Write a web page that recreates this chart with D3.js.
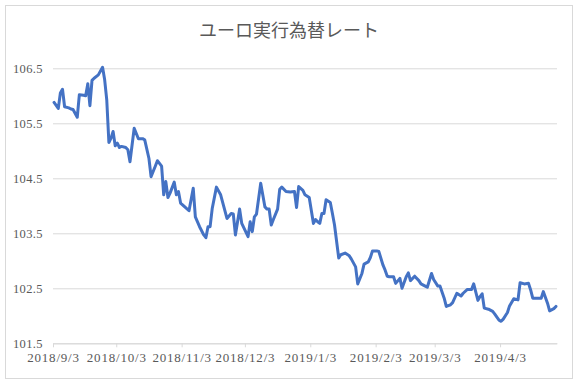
<!DOCTYPE html>
<html>
<head>
<meta charset="utf-8">
<script src="https://cdn.jsdelivr.net/npm/d3@7"></script>
<style>
  body { margin: 0; background: #fff; }
</style>
</head>
<body>
<div id="chart"></div>
<script>
var chartTitle = 'ユーロ実行為替レート';

var dates = [
  '2018-09-03','2018-09-05','2018-09-06','2018-09-07','2018-09-08','2018-09-10','2018-09-11','2018-09-12',
  '2018-09-14','2018-09-15','2018-09-17','2018-09-18','2018-09-19','2018-09-20','2018-09-21','2018-09-22',
  '2018-09-24','2018-09-26','2018-09-27','2018-09-28','2018-09-29','2018-09-30','2018-10-01','2018-10-02',
  '2018-10-03','2018-10-04','2018-10-05','2018-10-07','2018-10-08','2018-10-09','2018-10-11','2018-10-13',
  '2018-10-15','2018-10-16','2018-10-18','2018-10-19','2018-10-21','2018-10-22','2018-10-24','2018-10-25',
  '2018-10-26','2018-10-27','2018-10-28','2018-10-30','2018-10-31','2018-11-01','2018-11-02','2018-11-04',
  '2018-11-06','2018-11-08','2018-11-09','2018-11-11','2018-11-13','2018-11-14','2018-11-15','2018-11-16',
  '2018-11-17','2018-11-19','2018-11-21','2018-11-24','2018-11-26','2018-11-27','2018-11-28','2018-11-30',
  '2018-12-01','2018-12-04','2018-12-05','2018-12-06','2018-12-07','2018-12-08','2018-12-10','2018-12-12',
  '2018-12-13','2018-12-14','2018-12-15','2018-12-16','2018-12-18','2018-12-19','2018-12-20','2018-12-22',
  '2018-12-24','2018-12-26','2018-12-27','2018-12-28','2018-12-30','2018-12-31','2019-01-02','2019-01-04',
  '2019-01-05','2019-01-06','2019-01-07','2019-01-08','2019-01-09','2019-01-10','2019-01-12','2019-01-13',
  '2019-01-14','2019-01-16','2019-01-17','2019-01-19','2019-01-21','2019-01-22','2019-01-24','2019-01-25',
  '2019-01-27','2019-01-28','2019-01-30','2019-01-31','2019-02-01','2019-02-03','2019-02-04','2019-02-06',
  '2019-02-07','2019-02-08','2019-02-09','2019-02-11','2019-02-12','2019-02-14','2019-02-15','2019-02-17',
  '2019-02-18','2019-02-19','2019-02-21','2019-02-23','2019-02-24','2019-02-26','2019-02-27','2019-03-01',
  '2019-03-02','2019-03-04','2019-03-05','2019-03-07','2019-03-08','2019-03-10','2019-03-11','2019-03-13',
  '2019-03-15','2019-03-16','2019-03-18','2019-03-20','2019-03-21','2019-03-23','2019-03-24','2019-03-25',
  '2019-03-26','2019-03-28','2019-03-30','2019-03-31','2019-04-02','2019-04-03','2019-04-04','2019-04-06',
  '2019-04-07','2019-04-09','2019-04-11','2019-04-12','2019-04-14','2019-04-16','2019-04-17','2019-04-18',
  '2019-04-20','2019-04-22','2019-04-23','2019-04-25','2019-04-26','2019-04-28','2019-04-29'
];

var rates = [
  105.88,105.77,106.05,106.12,105.80,105.78,105.76,105.75,
  105.61,106.02,106.01,106.00,106.22,105.82,106.28,106.32,
  106.38,106.52,106.29,105.92,105.15,105.23,105.35,105.09,
  105.14,105.06,105.08,105.06,105.02,104.80,105.41,105.22,
  105.22,105.20,104.86,104.53,104.72,104.82,104.72,104.20,
  104.44,104.15,104.23,104.43,104.20,104.26,104.05,103.98,
  103.91,104.32,103.80,103.62,103.47,103.42,103.62,103.62,
  103.95,104.34,104.20,103.77,103.86,103.85,103.47,103.94,
  103.68,103.44,103.71,103.53,103.80,103.85,104.41,103.98,
  103.94,103.94,103.65,103.75,103.94,104.30,104.34,104.26,
  104.25,104.26,103.97,104.35,104.28,104.20,104.15,103.68,
  103.75,103.71,103.68,103.86,103.86,104.11,104.06,103.86,
  103.65,103.05,103.11,103.14,103.09,103.03,102.89,102.58,
  102.77,102.94,102.98,103.06,103.18,103.18,103.17,102.92,
  102.83,102.72,102.71,102.71,102.59,102.68,102.50,102.71,
  102.78,102.64,102.72,102.64,102.58,102.54,102.52,102.77,
  102.66,102.54,102.54,102.32,102.17,102.20,102.24,102.41,
  102.36,102.41,102.48,102.48,102.58,102.28,102.35,102.40,
  102.14,102.12,102.08,102.03,101.92,101.90,101.94,102.06,
  102.18,102.31,102.29,102.60,102.58,102.59,102.47,102.32,
  102.32,102.32,102.44,102.23,102.09,102.13,102.17
];

var xTickDates = ['2018-09-03','2018-10-03','2018-11-03','2018-12-03','2019-01-03','2019-02-03','2019-03-03','2019-04-03'];
var xDomain = ['2018-09-03', '2019-04-30'];
var yTicks = [101.5, 102.5, 103.5, 104.5, 105.5, 106.5];

var W = 579, H = 387;
var margin = {top: 68.3, right: 22, bottom: 43.7, left: 53};
var width = W - margin.left - margin.right;
var height = H - margin.top - margin.bottom;
var parse = d3.timeParse('%Y-%m-%d');
var fmt = d3.timeFormat('%Y/%-m/%-d');
var textColor = '#595959';
var gridColor = '#d9d9d9';

var svg = d3.select('#chart').append('svg')
            .attr('width', W)
            .attr('height', H);

// chart area border
svg.append('rect')
   .attr('x', 5.5).attr('y', 5.5)
   .attr('width', 567).attr('height', 373)
   .attr('fill', '#fff')
   .attr('stroke', gridColor)
   .attr('stroke-width', 1);

svg.append('text')
   .attr('x', 289).attr('y', 37)
   .attr('text-anchor', 'middle')
   .attr('fill', textColor)
   .style('font-family', '"Noto Sans CJK JP", sans-serif')
   .style('font-size', '18px')
   .text(chartTitle);

var x = d3.scaleTime()
          .domain(xDomain.map(parse))
          .range([0, width]);

var y = d3.scaleLinear()
          .domain([yTicks[0], yTicks[yTicks.length - 1]])
          .range([height, 0]);

var g = svg.append('g')
           .attr('transform', 'translate(' + margin.left + ',' + margin.top + ')');

// y axis + gridlines
var yAxis = d3.axisLeft(y)
              .tickValues(yTicks)
              .tickFormat(d3.format('.1f'))
              .tickSize(-width)
              .tickPadding(10);

var yg = g.append('g').attr('class', 'yaxis').call(yAxis);
yg.select('.domain').remove();
yg.selectAll('line').attr('stroke', gridColor);
yg.selectAll('text')
  .attr('fill', textColor)
  .style('font-family', '"Liberation Serif", serif')
  .style('font-size', '12.5px')
  .style('letter-spacing', '0.4px');

// x axis
var xAxis = d3.axisBottom(x)
              .tickValues(xTickDates.map(parse))
              .tickFormat(fmt)
              .tickSizeInner(4)
              .tickSizeOuter(0)
              .tickPadding(5);

var xg = g.append('g')
          .attr('class', 'xaxis')
          .attr('transform', 'translate(0,' + height + ')')
          .call(xAxis);
xg.select('.domain').attr('stroke', gridColor);
xg.selectAll('line').attr('stroke', gridColor);
xg.selectAll('text')
  .attr('fill', textColor)
  .style('font-family', '"Liberation Serif", serif')
  .style('font-size', '13px')
  .style('letter-spacing', '0.8px');

// the series, each point centred in its day slot
var points = dates.map(function(d, i) {
  return [d3.timeHour.offset(parse(d), 12), rates[i]];
});

var line = d3.line()
             .x(function(d) { return x(d[0]); })
             .y(function(d) { return y(d[1]); })
             .curve(d3.curveLinear);

g.append('path')
 .datum(points)
 .attr('d', line)
 .attr('fill', 'none')
 .attr('stroke', '#4472c4')
 .attr('stroke-width', 3)
 .attr('stroke-linejoin', 'round')
 .attr('stroke-linecap', 'round');
</script>
</body>
</html>
